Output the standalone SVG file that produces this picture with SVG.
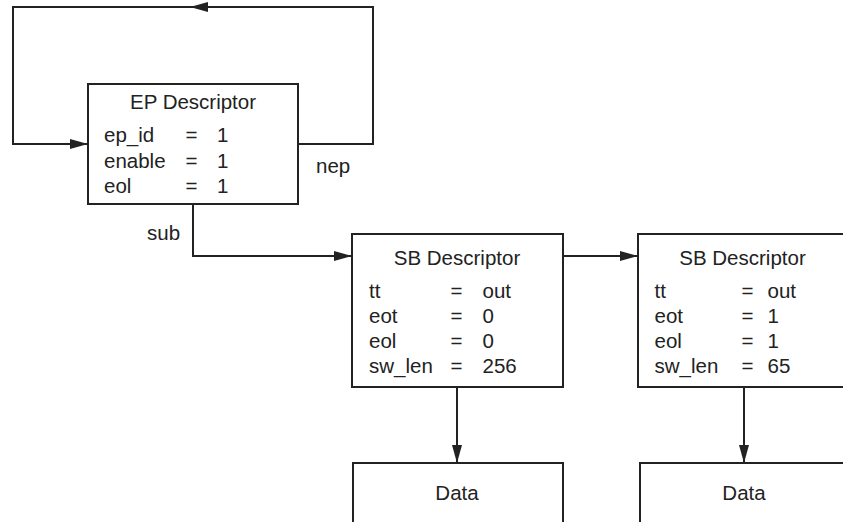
<svg xmlns="http://www.w3.org/2000/svg" width="843" height="522" viewBox="0 0 843 522">
  <style>
    .box { fill: #fff; stroke: #222; stroke-width: 2; }
    .wire { fill: none; stroke: #222; stroke-width: 2; }
    text { font-family: "Liberation Sans", Arial, sans-serif; font-size: 20.5px; fill: #222; }
    .mid { text-anchor: middle; }
  </style>
  <defs>
    <marker id="arrow" viewBox="0 0 18 10" refX="18" refY="5" markerWidth="18" markerHeight="10" markerUnits="userSpaceOnUse" orient="auto">
      <path d="M0,0 L18,5 L0,10 Z" fill="#222"/>
    </marker>
  </defs>
  <rect width="843" height="522" fill="#fff"/>

  <g id="connectors">
    <!-- nep loop back into the EP descriptor -->
    <path class="wire" d="M298,144 H373 V7 H191"/>
    <path class="wire" d="M209,7 H190" marker-end="url(#arrow)"/>
    <path class="wire" d="M191,7 H13 V144 H88" marker-end="url(#arrow)"/>
    <!-- sub -->
    <path class="wire" d="M193,204 V256 H352" marker-end="url(#arrow)"/>
    <!-- SB chain -->
    <path class="wire" d="M563,256 H638" marker-end="url(#arrow)"/>
    <!-- data buffers -->
    <path class="wire" d="M457,387 V463" marker-end="url(#arrow)"/>
    <path class="wire" d="M744,387 V463" marker-end="url(#arrow)"/>
    <text x="316" y="173">nep</text>
    <text x="147" y="240">sub</text>
  </g>

  <g id="ep-descriptor">
    <rect class="box" x="88" y="84" width="210" height="120"/>
    <text class="mid" x="193" y="109">EP Descriptor</text>
    <text x="104" y="142">ep_id</text><text x="185.5" y="142">=</text><text x="217" y="142">1</text>
    <text x="104" y="167.5">enable</text><text x="185.5" y="167.5">=</text><text x="217" y="167.5">1</text>
    <text x="104" y="193">eol</text><text x="185.5" y="193">=</text><text x="217" y="193">1</text>
  </g>

  <g id="sb-descriptor-1">
    <rect class="box" x="352" y="234" width="211" height="153"/>
    <text class="mid" x="457" y="265">SB Descriptor</text>
    <text x="369" y="298">tt</text><text x="450.5" y="298">=</text><text x="482.5" y="298">out</text>
    <text x="369" y="323">eot</text><text x="450.5" y="323">=</text><text x="482.5" y="323">0</text>
    <text x="369" y="348">eol</text><text x="450.5" y="348">=</text><text x="482.5" y="348">0</text>
    <text x="369" y="373">sw_len</text><text x="450.5" y="373">=</text><text x="482.5" y="373">256</text>
  </g>

  <g id="sb-descriptor-2">
    <rect class="box" x="638" y="234" width="211" height="153"/>
    <text class="mid" x="742.5" y="265">SB Descriptor</text>
    <text x="654.5" y="298">tt</text><text x="741.5" y="298">=</text><text x="767.5" y="298">out</text>
    <text x="654.5" y="323">eot</text><text x="741.5" y="323">=</text><text x="767.5" y="323">1</text>
    <text x="654.5" y="348">eol</text><text x="741.5" y="348">=</text><text x="767.5" y="348">1</text>
    <text x="654.5" y="373">sw_len</text><text x="741.5" y="373">=</text><text x="767.5" y="373">65</text>
  </g>

  <g id="data-1">
    <rect class="box" x="353" y="463" width="210" height="70"/>
    <text class="mid" x="457" y="500">Data</text>
  </g>

  <g id="data-2">
    <rect class="box" x="640" y="463" width="210" height="70"/>
    <text class="mid" x="744" y="500">Data</text>
  </g>
</svg>
